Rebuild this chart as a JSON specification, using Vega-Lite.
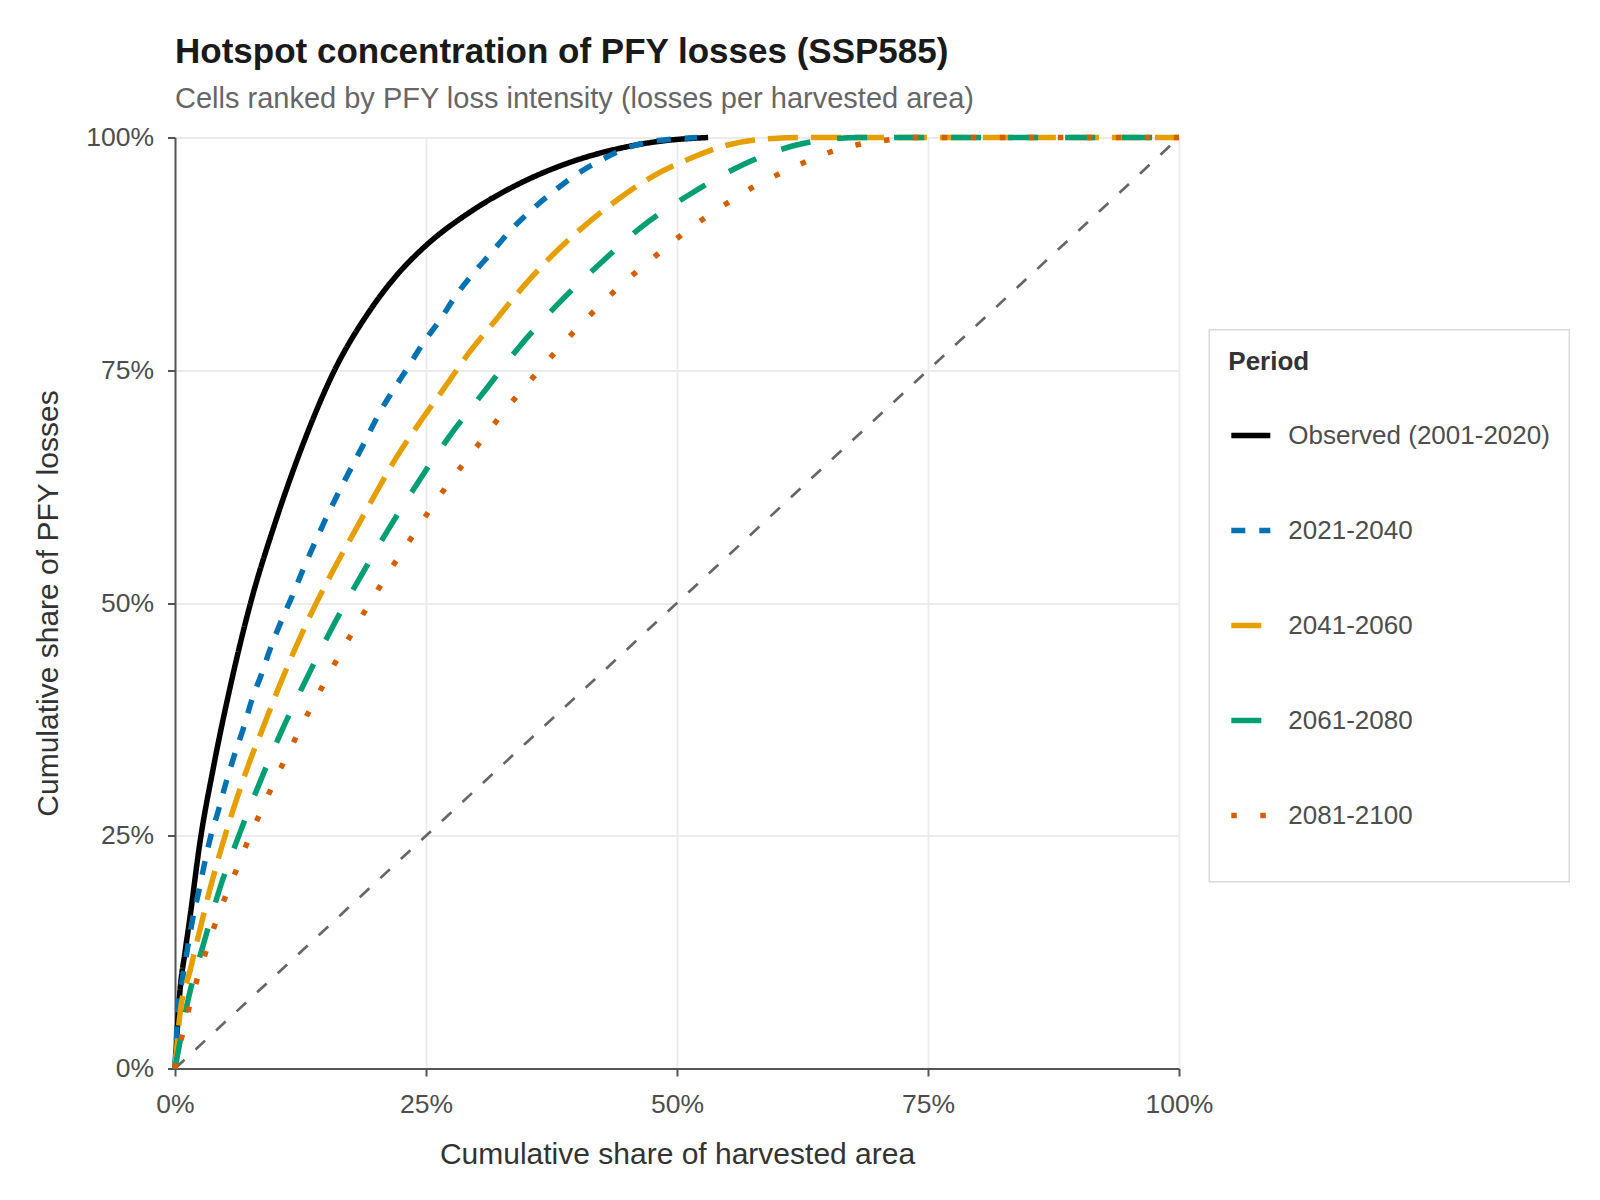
{
  "$schema": "https://vega.github.io/schema/vega-lite/v6.json",
  "width": 1004,
  "height": 931,
  "autosize": {"type": "none"},
  "padding": {"left": 175, "top": 137.5, "right": 421, "bottom": 131.5},
  "background": "white",
  "title": {
    "text": "Hotspot concentration of PFY losses (SSP585)",
    "subtitle": "Cells ranked by PFY loss intensity (losses per harvested area)",
    "anchor": "start",
    "frame": "group",
    "font": "Liberation Sans",
    "fontSize": 35,
    "fontWeight": "bold",
    "color": "#1a1a1a",
    "subtitleFont": "Liberation Sans",
    "subtitleFontSize": 29,
    "subtitleColor": "#666666",
    "subtitlePadding": 15,
    "offset": 11
  },
  "datasets": {
    "equality": [
      {"area_share": 0, "loss_share": 0},
      {"area_share": 1, "loss_share": 1}
    ],
    "curves": [
      {"period": "Observed (2001-2020)", "area_share": 0, "loss_share": 0},
      {"period": "Observed (2001-2020)", "area_share": 0.005, "loss_share": 0.084},
      {"period": "Observed (2001-2020)", "area_share": 0.01, "loss_share": 0.125},
      {"period": "Observed (2001-2020)", "area_share": 0.015, "loss_share": 0.163},
      {"period": "Observed (2001-2020)", "area_share": 0.025, "loss_share": 0.244},
      {"period": "Observed (2001-2020)", "area_share": 0.038, "loss_share": 0.322},
      {"period": "Observed (2001-2020)", "area_share": 0.055, "loss_share": 0.41},
      {"period": "Observed (2001-2020)", "area_share": 0.075, "loss_share": 0.499},
      {"period": "Observed (2001-2020)", "area_share": 0.1, "loss_share": 0.587},
      {"period": "Observed (2001-2020)", "area_share": 0.128, "loss_share": 0.672},
      {"period": "Observed (2001-2020)", "area_share": 0.158, "loss_share": 0.748},
      {"period": "Observed (2001-2020)", "area_share": 0.194, "loss_share": 0.814},
      {"period": "Observed (2001-2020)", "area_share": 0.22, "loss_share": 0.851},
      {"period": "Observed (2001-2020)", "area_share": 0.25, "loss_share": 0.884},
      {"period": "Observed (2001-2020)", "area_share": 0.294, "loss_share": 0.92},
      {"period": "Observed (2001-2020)", "area_share": 0.344, "loss_share": 0.951},
      {"period": "Observed (2001-2020)", "area_share": 0.39, "loss_share": 0.972},
      {"period": "Observed (2001-2020)", "area_share": 0.45, "loss_share": 0.99},
      {"period": "Observed (2001-2020)", "area_share": 0.483, "loss_share": 0.996},
      {"period": "Observed (2001-2020)", "area_share": 0.531, "loss_share": 1.0},

      {"period": "2021-2040", "area_share": 0, "loss_share": 0},
      {"period": "2021-2040", "area_share": 0.0017, "loss_share": 0.04},
      {"period": "2021-2040", "area_share": 0.0033, "loss_share": 0.068},
      {"period": "2021-2040", "area_share": 0.0077, "loss_share": 0.098},
      {"period": "2021-2040", "area_share": 0.0123, "loss_share": 0.128},
      {"period": "2021-2040", "area_share": 0.0175, "loss_share": 0.16},
      {"period": "2021-2040", "area_share": 0.0232, "loss_share": 0.188},
      {"period": "2021-2040", "area_share": 0.029, "loss_share": 0.218},
      {"period": "2021-2040", "area_share": 0.0355, "loss_share": 0.249},
      {"period": "2021-2040", "area_share": 0.0432, "loss_share": 0.277},
      {"period": "2021-2040", "area_share": 0.0508, "loss_share": 0.307},
      {"period": "2021-2040", "area_share": 0.059, "loss_share": 0.336},
      {"period": "2021-2040", "area_share": 0.068, "loss_share": 0.365},
      {"period": "2021-2040", "area_share": 0.0763, "loss_share": 0.395},
      {"period": "2021-2040", "area_share": 0.0863, "loss_share": 0.424},
      {"period": "2021-2040", "area_share": 0.0956, "loss_share": 0.453},
      {"period": "2021-2040", "area_share": 0.106, "loss_share": 0.481},
      {"period": "2021-2040", "area_share": 0.117, "loss_share": 0.508},
      {"period": "2021-2040", "area_share": 0.128, "loss_share": 0.537},
      {"period": "2021-2040", "area_share": 0.139, "loss_share": 0.564},
      {"period": "2021-2040", "area_share": 0.15, "loss_share": 0.59},
      {"period": "2021-2040", "area_share": 0.164, "loss_share": 0.621},
      {"period": "2021-2040", "area_share": 0.189, "loss_share": 0.673},
      {"period": "2021-2040", "area_share": 0.2025, "loss_share": 0.702},
      {"period": "2021-2040", "area_share": 0.217, "loss_share": 0.728},
      {"period": "2021-2040", "area_share": 0.232, "loss_share": 0.753},
      {"period": "2021-2040", "area_share": 0.247, "loss_share": 0.779},
      {"period": "2021-2040", "area_share": 0.264, "loss_share": 0.804},
      {"period": "2021-2040", "area_share": 0.279, "loss_share": 0.829},
      {"period": "2021-2040", "area_share": 0.297, "loss_share": 0.854},
      {"period": "2021-2040", "area_share": 0.315, "loss_share": 0.876},
      {"period": "2021-2040", "area_share": 0.334, "loss_share": 0.9},
      {"period": "2021-2040", "area_share": 0.355, "loss_share": 0.922},
      {"period": "2021-2040", "area_share": 0.377, "loss_share": 0.942},
      {"period": "2021-2040", "area_share": 0.398, "loss_share": 0.959},
      {"period": "2021-2040", "area_share": 0.423, "loss_share": 0.975},
      {"period": "2021-2040", "area_share": 0.448, "loss_share": 0.988},
      {"period": "2021-2040", "area_share": 0.476, "loss_share": 0.996},
      {"period": "2021-2040", "area_share": 0.505, "loss_share": 0.999},
      {"period": "2021-2040", "area_share": 0.52, "loss_share": 1.0},

      {"period": "2041-2060", "area_share": 0, "loss_share": 0},
      {"period": "2041-2060", "area_share": 0.005, "loss_share": 0.059},
      {"period": "2041-2060", "area_share": 0.015, "loss_share": 0.105},
      {"period": "2041-2060", "area_share": 0.025, "loss_share": 0.15},
      {"period": "2041-2060", "area_share": 0.0349, "loss_share": 0.193},
      {"period": "2041-2060", "area_share": 0.0465, "loss_share": 0.238},
      {"period": "2041-2060", "area_share": 0.059, "loss_share": 0.2815},
      {"period": "2041-2060", "area_share": 0.073, "loss_share": 0.3256},
      {"period": "2041-2060", "area_share": 0.088, "loss_share": 0.367},
      {"period": "2041-2060", "area_share": 0.1036, "loss_share": 0.41},
      {"period": "2041-2060", "area_share": 0.1205, "loss_share": 0.453},
      {"period": "2041-2060", "area_share": 0.138, "loss_share": 0.494},
      {"period": "2041-2060", "area_share": 0.158, "loss_share": 0.536},
      {"period": "2041-2060", "area_share": 0.181, "loss_share": 0.581},
      {"period": "2041-2060", "area_share": 0.199, "loss_share": 0.616},
      {"period": "2041-2060", "area_share": 0.2198, "loss_share": 0.6551},
      {"period": "2041-2060", "area_share": 0.243, "loss_share": 0.6927},
      {"period": "2041-2060", "area_share": 0.268, "loss_share": 0.7306},
      {"period": "2041-2060", "area_share": 0.2922, "loss_share": 0.7678},
      {"period": "2041-2060", "area_share": 0.3187, "loss_share": 0.803},
      {"period": "2041-2060", "area_share": 0.346, "loss_share": 0.8388},
      {"period": "2041-2060", "area_share": 0.3752, "loss_share": 0.8728},
      {"period": "2041-2060", "area_share": 0.4067, "loss_share": 0.904},
      {"period": "2041-2060", "area_share": 0.44, "loss_share": 0.9326},
      {"period": "2041-2060", "area_share": 0.475, "loss_share": 0.9577},
      {"period": "2041-2060", "area_share": 0.513, "loss_share": 0.9774},
      {"period": "2041-2060", "area_share": 0.5495, "loss_share": 0.9917},
      {"period": "2041-2060", "area_share": 0.596, "loss_share": 0.9989},
      {"period": "2041-2060", "area_share": 0.632, "loss_share": 1.0},
      {"period": "2041-2060", "area_share": 1.0, "loss_share": 1.0},

      {"period": "2061-2080", "area_share": 0, "loss_share": 0},
      {"period": "2061-2080", "area_share": 0.0033, "loss_share": 0.019},
      {"period": "2061-2080", "area_share": 0.0133, "loss_share": 0.075},
      {"period": "2061-2080", "area_share": 0.0282, "loss_share": 0.133},
      {"period": "2061-2080", "area_share": 0.0442, "loss_share": 0.192},
      {"period": "2061-2080", "area_share": 0.063, "loss_share": 0.2485},
      {"period": "2061-2080", "area_share": 0.084, "loss_share": 0.306},
      {"period": "2061-2080", "area_share": 0.1062, "loss_share": 0.3624},
      {"period": "2061-2080", "area_share": 0.1305, "loss_share": 0.4176},
      {"period": "2061-2080", "area_share": 0.156, "loss_share": 0.4724},
      {"period": "2061-2080", "area_share": 0.1836, "loss_share": 0.526},
      {"period": "2061-2080", "area_share": 0.2125, "loss_share": 0.579},
      {"period": "2061-2080", "area_share": 0.2423, "loss_share": 0.63},
      {"period": "2061-2080", "area_share": 0.274, "loss_share": 0.68},
      {"period": "2061-2080", "area_share": 0.309, "loss_share": 0.7285},
      {"period": "2061-2080", "area_share": 0.342, "loss_share": 0.774},
      {"period": "2061-2080", "area_share": 0.3835, "loss_share": 0.8234},
      {"period": "2061-2080", "area_share": 0.4216, "loss_share": 0.8628},
      {"period": "2061-2080", "area_share": 0.4648, "loss_share": 0.904},
      {"period": "2061-2080", "area_share": 0.5113, "loss_share": 0.938},
      {"period": "2061-2080", "area_share": 0.561, "loss_share": 0.9684},
      {"period": "2061-2080", "area_share": 0.614, "loss_share": 0.9906},
      {"period": "2061-2080", "area_share": 0.659, "loss_share": 0.9989},
      {"period": "2061-2080", "area_share": 0.68, "loss_share": 1.0},
      {"period": "2061-2080", "area_share": 1.0, "loss_share": 1.0},

      {"period": "2081-2100", "area_share": 0, "loss_share": 0},
      {"period": "2081-2100", "area_share": 0.0066, "loss_share": 0.033},
      {"period": "2081-2100", "area_share": 0.0133, "loss_share": 0.0623},
      {"period": "2081-2100", "area_share": 0.0209, "loss_share": 0.0917},
      {"period": "2081-2100", "area_share": 0.0292, "loss_share": 0.1203},
      {"period": "2081-2100", "area_share": 0.0381, "loss_share": 0.1494},
      {"period": "2081-2100", "area_share": 0.0481, "loss_share": 0.1787},
      {"period": "2081-2100", "area_share": 0.0588, "loss_share": 0.207},
      {"period": "2081-2100", "area_share": 0.069, "loss_share": 0.235},
      {"period": "2081-2100", "area_share": 0.0804, "loss_share": 0.2636},
      {"period": "2081-2100", "area_share": 0.0919, "loss_share": 0.2915},
      {"period": "2081-2100", "area_share": 0.1039, "loss_share": 0.3194},
      {"period": "2081-2100", "area_share": 0.1162, "loss_share": 0.3463},
      {"period": "2081-2100", "area_share": 0.1288, "loss_share": 0.3739},
      {"period": "2081-2100", "area_share": 0.1421, "loss_share": 0.4008},
      {"period": "2081-2100", "area_share": 0.1554, "loss_share": 0.4276},
      {"period": "2081-2100", "area_share": 0.1693, "loss_share": 0.4545},
      {"period": "2081-2100", "area_share": 0.1836, "loss_share": 0.4814},
      {"period": "2081-2100", "area_share": 0.1982, "loss_share": 0.5071},
      {"period": "2081-2100", "area_share": 0.2125, "loss_share": 0.5326},
      {"period": "2081-2100", "area_share": 0.2284, "loss_share": 0.5584},
      {"period": "2081-2100", "area_share": 0.244, "loss_share": 0.5842},
      {"period": "2081-2100", "area_share": 0.26, "loss_share": 0.6096},
      {"period": "2081-2100", "area_share": 0.2766, "loss_share": 0.6343},
      {"period": "2081-2100", "area_share": 0.2938, "loss_share": 0.6586},
      {"period": "2081-2100", "area_share": 0.311, "loss_share": 0.6826},
      {"period": "2081-2100", "area_share": 0.3287, "loss_share": 0.707},
      {"period": "2081-2100", "area_share": 0.3469, "loss_share": 0.7303},
      {"period": "2081-2100", "area_share": 0.3652, "loss_share": 0.7528},
      {"period": "2081-2100", "area_share": 0.3841, "loss_share": 0.7758},
      {"period": "2081-2100", "area_share": 0.4034, "loss_share": 0.7983},
      {"period": "2081-2100", "area_share": 0.4233, "loss_share": 0.8198},
      {"period": "2081-2100", "area_share": 0.4442, "loss_share": 0.8413},
      {"period": "2081-2100", "area_share": 0.4655, "loss_share": 0.861},
      {"period": "2081-2100", "area_share": 0.4874, "loss_share": 0.8807},
      {"period": "2081-2100", "area_share": 0.5097, "loss_share": 0.8996},
      {"period": "2081-2100", "area_share": 0.5329, "loss_share": 0.9176},
      {"period": "2081-2100", "area_share": 0.5561, "loss_share": 0.9337},
      {"period": "2081-2100", "area_share": 0.581, "loss_share": 0.9498},
      {"period": "2081-2100", "area_share": 0.6059, "loss_share": 0.963},
      {"period": "2081-2100", "area_share": 0.6318, "loss_share": 0.9756},
      {"period": "2081-2100", "area_share": 0.6584, "loss_share": 0.9864},
      {"period": "2081-2100", "area_share": 0.6856, "loss_share": 0.9936},
      {"period": "2081-2100", "area_share": 0.7138, "loss_share": 0.9979},
      {"period": "2081-2100", "area_share": 0.73, "loss_share": 1.0},
      {"period": "2081-2100", "area_share": 1.0, "loss_share": 1.0}
    ]
  },
  "layer": [
    {
      "data": {"name": "equality"},
      "mark": {"type": "line", "color": "#666666", "strokeWidth": 2.7, "strokeDash": [13, 15], "strokeCap": "butt"},
      "encoding": {
        "x": {"field": "area_share", "type": "quantitative", "scale": {"domain": [0, 1], "nice": false},
              "axis": {"title": "Cumulative share of harvested area", "values": [0, 0.25, 0.5, 0.75, 1], "format": ".0%"}},
        "y": {"field": "loss_share", "type": "quantitative", "scale": {"domain": [0, 1], "nice": false},
              "axis": {"title": "Cumulative share of PFY losses", "values": [0, 0.25, 0.5, 0.75, 1], "format": ".0%"}}
      }
    },
    {
      "data": {"name": "curves"},
      "mark": {"type": "line", "strokeWidth": 5.5, "strokeCap": "butt", "strokeJoin": "round", "interpolate": "monotone"},
      "encoding": {
        "x": {"field": "area_share", "type": "quantitative", "scale": {"domain": [0, 1], "nice": false},
              "axis": {"title": "Cumulative share of harvested area", "values": [0, 0.25, 0.5, 0.75, 1], "format": ".0%"}},
        "y": {"field": "loss_share", "type": "quantitative", "scale": {"domain": [0, 1], "nice": false},
              "axis": {"title": "Cumulative share of PFY losses", "values": [0, 0.25, 0.5, 0.75, 1], "format": ".0%"}},
        "color": {
          "field": "period", "type": "nominal", "title": "Period",
          "scale": {
            "domain": ["Observed (2001-2020)", "2021-2040", "2041-2060", "2061-2080", "2081-2100"],
            "range": ["#000000", "#0072B2", "#E69F00", "#009E73", "#D55E00"]
          }
        },
        "strokeDash": {
          "field": "period", "type": "nominal", "title": "Period",
          "scale": {
            "domain": ["Observed (2001-2020)", "2021-2040", "2041-2060", "2061-2080", "2081-2100"],
            "range": [[1, 0], [14, 14], [30, 13], [30, 27], [5.5, 23.5]]
          }
        }
      }
    }
  ],
  "config": {
    "view": {"stroke": null},
    "font": "Liberation Sans",
    "axis": {
      "grid": true,
      "gridColor": "#ebebeb",
      "gridWidth": 1.8,
      "domainColor": "#555555",
      "domainWidth": 2,
      "tickColor": "#555555",
      "tickWidth": 2,
      "tickSize": 7.5,
      "labelFont": "Liberation Sans",
      "labelFontSize": 26.5,
      "labelColor": "#4d4d4d",
      "labelPadding": 14,
      "labelFlush": false,
      "titleFont": "Liberation Sans",
      "titleFontSize": 30,
      "titleFontWeight": "normal",
      "titleColor": "#333333"
    },
    "axisX": {"titlePadding": 22, "labelPadding": 15},
    "axisY": {"titlePadding": 22},
    "legend": {
      "orient": "none",
      "legendX": 1034.3,
      "legendY": 192.3,
      "padding": 19,
      "strokeColor": "#d9d9d9",
      "strokeWidth": 1.5,
      "fillColor": "white",
      "titleFont": "Liberation Sans",
      "titleFontSize": 26,
      "titleFontWeight": "bold",
      "titleColor": "#333333",
      "titlePadding": 13.5,
      "labelFont": "Liberation Sans",
      "labelFontSize": 26,
      "labelColor": "#4d4d4d",
      "labelOffset": 15,
      "labelLimit": 400,
      "symbolType": "stroke",
      "symbolSize": 1521,
      "symbolStrokeWidth": 5.5,
      "clipHeight": 94.5,
      "rowPadding": 0
    }
  }
}
